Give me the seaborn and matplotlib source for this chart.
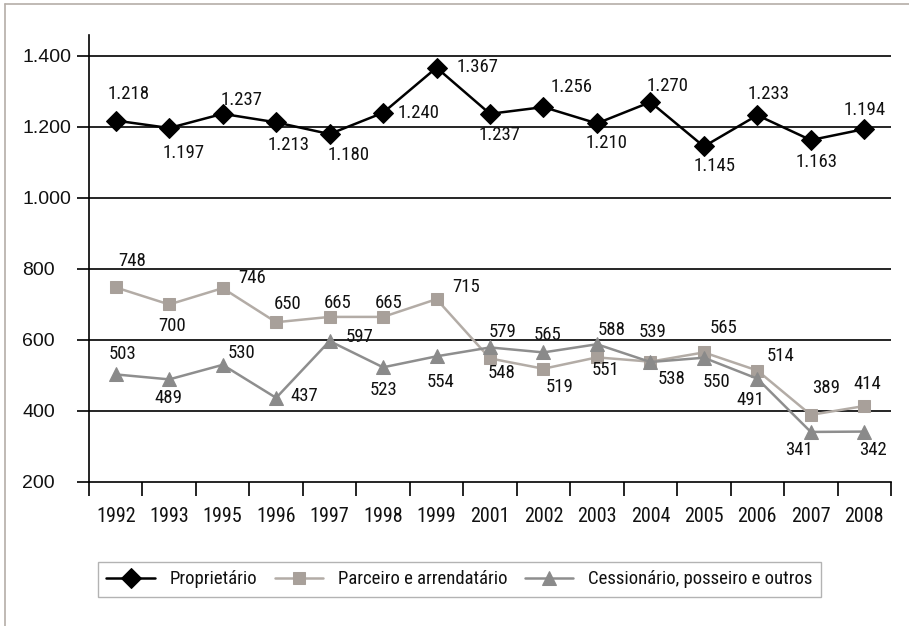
import matplotlib
matplotlib.use("Agg")
import matplotlib.pyplot as plt
from matplotlib import font_manager
from matplotlib.lines import Line2D
from matplotlib.ticker import FixedLocator, FuncFormatter
import numpy as np
import pandas as pd
import seaborn as sns

# ---- data -------------------------------------------------------------
years = ["1992", "1993", "1995", "1996", "1997", "1998", "1999", "2001",
         "2002", "2003", "2004", "2005", "2006", "2007", "2008"]
proprietario = [1218, 1197, 1237, 1213, 1180, 1240, 1367, 1237,
                1256, 1210, 1270, 1145, 1233, 1163, 1194]
parceiro = [748, 700, 746, 650, 665, 665, 715, 548,
            519, 551, 539, 565, 514, 389, 414]
cessionario = [503, 489, 530, 437, 597, 523, 554, 579,
               565, 588, 538, 550, 491, 341, 342]
series_names = ["Proprietário", "Parceiro e arrendatário",
                "Cessionário, posseiro e outros"]
y_ticks = [200, 400, 600, 800, 1000, 1200, 1400]

# label placement around each marker (pixels: right, up)
prop_off = [(13, 27), (14, -25), (19, 14), (12, -23), (19, -21), (35, 0),
            (41, 1), (10, -21), (28, 20), (10, -20), (17, 16), (11, -20),
            (11, 21), (6, -22), (0, 19)]
parc_off = [(16, 26), (3, -22), (29, 10), (11, 18), (8, 14), (6, 14),
            (30, 12), (12, -15), (16, -18), (9, -13), (2, 30), (20, 24),
            (23, 15), (15, 27), (3, 22)]
cess_off = [(7, 20), (-1, -19), (19, 12), (28, 2), (30, 4), (0, -23),
            (4, -26), (13, 15), (4, 17), (15, 14), (21, -17), (13, -24),
            (-7, -21), (-12, -18), (9, -18)]

# ---- fonts ------------------------------------------------------------
sns.set_theme(style="white")


def pick(fams, default):
    for f in fams:
        try:
            font_manager.findfont(f, fallback_to_default=False)
            return f
        except Exception:
            continue
    return default


narrow = pick(["Liberation Sans Narrow", "Arial Narrow", "Roboto Condensed"],
              "Liberation Sans")
regular = pick(["Liberation Sans", "Arial"], "DejaVu Sans")
plt.rcParams["font.family"] = [narrow, "DejaVu Sans"]

# ---- figure -----------------------------------------------------------
fig = plt.figure(figsize=(9.09, 6.26), dpi=100)
ax = fig.add_axes([89 / 909, 1 - 482 / 626, (891 - 89) / 909, (482 - 35) / 626])

x = np.arange(len(years))
df = pd.DataFrame({"x": x, "prop": proprietario, "parc": parceiro,
                   "cess": cessionario})

styles = [
    ("prop", "#000000", "#000000", "D", 10, series_names[0]),
    ("parc", "#b3aca6", "#a8a09a", "s", 9, series_names[1]),
    ("cess", "#8e8e8e", "#8a8a8a", "^", 10, series_names[2]),
]
for col, lc, mc, mk, ms, name in styles:
    sns.lineplot(data=df, x="x", y=col, ax=ax, color=lc, lw=1.8,
                 marker=mk, markersize=ms, markerfacecolor=mc,
                 markeredgecolor=mc, label=name, zorder=3)

# value labels
label_kw = dict(textcoords="offset pixels", ha="center", va="center",
                fontsize=13.5, color="#111111", family=[narrow, "DejaVu Sans"],
                zorder=4)
for vals, offs in ((proprietario, prop_off), (parceiro, parc_off),
                   (cessionario, cess_off)):
    for xi, v, (dx, dy) in zip(x, vals, offs):
        ax.annotate(f"{v:,}".replace(",", "."), (xi, v), xytext=(dx, dy),
                    **label_kw)

# axes, grid and ticks
ax.set_xlim(-0.5, len(years) - 0.5)
ax.set_ylim(200, 1459)
ax.set_xlabel("")
ax.set_ylabel("")
for s in ("top", "right"):
    ax.spines[s].set_visible(False)
for s in ("left", "bottom"):
    ax.spines[s].set_color("#000000")
    ax.spines[s].set_linewidth(1.2)

ax.yaxis.set_major_locator(FixedLocator(y_ticks))
ax.yaxis.set_major_formatter(
    FuncFormatter(lambda v, p: f"{int(v):,}".replace(",", ".")))
for yv in y_ticks[1:]:
    ax.axhline(yv, color="#000000", lw=1.2, zorder=1)

ax.set_xticks(x)
ax.set_xticklabels(years)
ax.set_xticks(np.arange(-0.5, len(years)), minor=True)
ax.tick_params(axis="x", which="major", length=0, pad=18, labelsize=14.5,
               labelcolor="#111111")
ax.tick_params(axis="x", which="minor", length=10, width=1.2,
               direction="out", color="#000000", bottom=True)
ax.tick_params(axis="y", which="major", length=9, width=1.2,
               direction="out", color="#000000", left=True, pad=39,
               labelcolor="#111111", labelsize=14, labelfontfamily=regular)
for lab in ax.get_yticklabels():
    lab.set_horizontalalignment("left")

# legend
leg = ax.legend(loc="center", bbox_to_anchor=(459.5 / 909, 1 - 579.5 / 626),
                bbox_transform=fig.transFigure, ncol=3, frameon=True,
                fancybox=False, edgecolor="#a0a0a0", fontsize=13.5,
                handlelength=2.6, handletextpad=0.8, columnspacing=0.9,
                borderpad=0.45, numpoints=1)
leg.get_frame().set_linewidth(1.0)
for t in leg.get_texts():
    t.set_color("#111111")

# outer frame lines along the left and top edges
fig.add_artist(Line2D([5 / 909, 5 / 909], [0, 1 - 4 / 626],
                      transform=fig.transFigure, color="#b5aea8", lw=1.2))
fig.add_artist(Line2D([5 / 909, 1], [1 - 4 / 626, 1 - 4 / 626],
                      transform=fig.transFigure, color="#b5aea8", lw=1.2))

fig.savefig("out.png", dpi=100, facecolor="white")
